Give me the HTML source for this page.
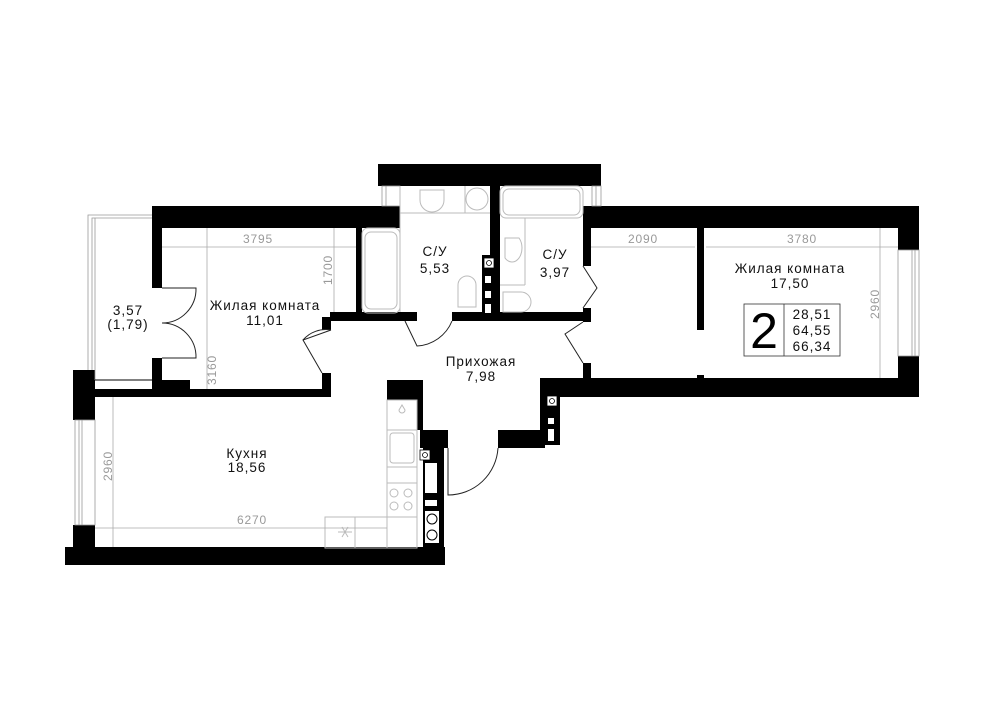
<!DOCTYPE html>
<html><head><meta charset="utf-8"><style>
html,body{margin:0;padding:0;background:#fff;width:1000px;height:707px;overflow:hidden}
svg{display:block}
.t{font-family:"Liberation Sans",sans-serif;font-size:13.5px;fill:#111;text-anchor:middle;letter-spacing:1px}
.d{font-family:"Liberation Sans",sans-serif;font-size:12px;fill:#999;text-anchor:middle;letter-spacing:0.8px}
.f{fill:none;stroke:#bbb;stroke-width:1}
.dl{stroke:#aaa;stroke-width:0.8;fill:none}
.dr{fill:none;stroke:#222;stroke-width:1}
</style></head><body>
<svg width="1000" height="707" viewBox="0 0 1000 707" xmlns="http://www.w3.org/2000/svg">
<g fill="#000">
<rect x="152" y="206" width="248" height="22"/>
<rect x="378" y="164" width="223" height="22"/>
<rect x="583" y="206" width="336" height="22"/>
<rect x="898" y="206" width="21" height="44"/>
<rect x="898" y="356" width="21" height="41"/>
<rect x="540" y="378" width="379" height="19"/>
<rect x="583" y="228" width="8" height="38"/>
<rect x="583" y="308" width="8" height="14"/>
<rect x="583" y="363" width="8" height="16"/>
<rect x="697" y="228" width="7" height="102"/>
<rect x="697" y="375" width="7" height="4"/>
<rect x="490" y="186" width="10" height="132"/>
<rect x="482" y="255" width="18" height="64"/>
<rect x="330" y="312" width="87" height="9"/>
<rect x="452" y="312" width="138" height="9"/>
<rect x="356" y="228" width="6" height="84"/>
<rect x="152" y="228" width="10" height="60"/>
<rect x="152" y="358" width="10" height="30"/>
<rect x="152" y="380" width="38" height="17"/>
<rect x="95" y="389" width="236" height="8"/>
<rect x="322" y="317" width="9" height="13"/>
<rect x="322" y="373" width="9" height="24"/>
<rect x="73" y="370" width="22" height="50"/>
<rect x="73" y="525" width="22" height="23"/>
<rect x="65" y="547" width="380" height="18"/>
<rect x="387" y="380" width="36" height="20"/>
<rect x="417" y="400" width="6" height="30"/>
<rect x="420" y="430" width="28" height="18"/>
<rect x="423" y="447" width="21" height="101"/>
<rect x="498" y="430" width="47" height="18"/>
<rect x="540" y="380" width="20" height="65"/>
</g>
<g fill="#fff" stroke="#000" stroke-width="0.8">
<rect x="484" y="258" width="10" height="10"/><circle cx="489" cy="263" r="2.5"/>
<rect x="547" y="396" width="10" height="10"/><circle cx="552" cy="401" r="2.5"/>
<rect x="420" y="450" width="10" height="10"/><circle cx="425" cy="455" r="2.5"/>
</g>
<g fill="#fff">
<rect x="485" y="276" width="6" height="7"/><rect x="485" y="291" width="6" height="7"/><rect x="485" y="304" width="6" height="9"/>
<rect x="548" y="418" width="6" height="6"/><rect x="548" y="429" width="6" height="12"/>
<rect x="425" y="463" width="12" height="30"/><rect x="425" y="500" width="12" height="6"/>
<rect x="425" y="511" width="14" height="32"/>
</g>
<g fill="none" stroke="#000" stroke-width="1"><circle cx="432" cy="519" r="5"/><circle cx="432" cy="535" r="5"/></g>
<g fill="none" stroke="#999" stroke-width="0.8">
<rect x="898" y="250" width="21" height="106"/><line x1="912" y1="250" x2="912" y2="356"/><line x1="915" y1="250" x2="915" y2="356"/>
<rect x="75" y="420" width="20" height="105"/><line x1="79" y1="420" x2="79" y2="525"/><line x1="82" y1="420" x2="82" y2="525"/>
<rect x="382" y="186" width="18" height="20"/><line x1="386" y1="186" x2="386" y2="206"/>
<rect x="592" y="186" width="9" height="20"/><line x1="596" y1="186" x2="596" y2="206"/>
<polyline points="152,215 88,215 88,370"/><polyline points="152,218 92,218 92,370"/>
<line x1="95" y1="218" x2="95" y2="380"/>
</g>
<line x1="95" y1="380" x2="152" y2="380" stroke="#000" stroke-width="1"/>
<g class="f">
<rect x="362" y="228" width="38" height="85" rx="6"/><rect x="365" y="232" width="32" height="77" rx="6"/>
<line x1="400" y1="186" x2="400" y2="312"/>
<line x1="400" y1="213" x2="490" y2="213"/>
<path d="M420 190 h24 v10 a12 12 0 0 1 -24 0 z"/>
<line x1="465" y1="186" x2="465" y2="213"/><circle cx="477" cy="199" r="11"/>
<path d="M458 285 a9 9 0 0 1 18 0 v22 h-18 z"/>
<rect x="500" y="186" width="83" height="32" rx="6"/><rect x="503" y="189" width="77" height="26" rx="6"/>
<line x1="525" y1="218" x2="525" y2="285"/><line x1="500" y1="285" x2="525" y2="285"/>
<path d="M505 238 h14 a10 14 0 0 1 -14 20 z"/>
<path d="M503 292 h18 a10 10 0 0 1 0 20 h-18 z"/>
<rect x="387" y="400" width="30" height="148"/>
<line x1="387" y1="430" x2="417" y2="430"/><line x1="387" y1="467" x2="417" y2="467"/><line x1="387" y1="483" x2="417" y2="483"/>
<rect x="390" y="433" width="24" height="30" rx="3"/>
<path d="M399 410 a3 3 0 1 0 6 0 l-3 -5 z"/>
<circle cx="394" cy="493" r="4"/><circle cx="408" cy="493" r="4"/><circle cx="394" cy="506" r="4"/><circle cx="408" cy="506" r="4"/>
<rect x="325" y="517" width="92" height="31"/><line x1="355" y1="517" x2="355" y2="548"/>
<path d="M342 527 l6 10 M348 527 l-6 10 M338 532 h14"/>
</g>
<g class="dr">
<path d="M162 288 L196 288 A34 34 0 0 1 162 323"/>
<path d="M162 358 L196 358 A34 34 0 0 0 162 323"/>
<path d="M331 330 L303 340 L322 373"/>
<path d="M331 330 A30 30 0 0 0 303 340"/>
<path d="M405 321 L417 346 A40 40 0 0 0 452 321"/>
<path d="M583 266 L597 288 L583 308"/>
<path d="M583 322 L565 334 L583 363"/>
<path d="M448 448 L448 495 A50 50 0 0 0 498 448"/>
</g>
<g class="dl">
<line x1="162" y1="247" x2="356" y2="247"/>
<line x1="207" y1="228" x2="207" y2="389"/>
<line x1="334" y1="228" x2="334" y2="312"/>
<line x1="113" y1="397" x2="113" y2="547"/>
<line x1="95" y1="528" x2="387" y2="528"/>
<line x1="591" y1="247" x2="695" y2="247"/>
<line x1="706" y1="247" x2="898" y2="247"/>
<line x1="880" y1="228" x2="880" y2="378"/>
</g>
<text class="d" x="258" y="243">3795</text>
<text class="d" x="332" y="270" transform="rotate(-90 332 270)">1700</text>
<text class="d" x="216" y="370" transform="rotate(-90 216 370)">3160</text>
<text class="d" x="112" y="466" transform="rotate(-90 112 466)">2960</text>
<text class="d" x="252" y="524">6270</text>
<text class="d" x="643" y="243">2090</text>
<text class="d" x="802" y="243">3780</text>
<text class="d" x="879" y="304" transform="rotate(-90 879 304)">2960</text>
<text class="t" x="265" y="310">Жилая комната</text><text class="t" x="265" y="325">11,01</text>
<text class="t" x="435" y="256">С/У</text><text class="t" x="435" y="273">5,53</text>
<text class="t" x="555" y="259">С/У</text><text class="t" x="555" y="277">3,97</text>
<text class="t" x="481" y="366">Прихожая</text><text class="t" x="481" y="381">7,98</text>
<text class="t" x="247" y="458">Кухня</text><text class="t" x="247" y="472">18,56</text>
<text class="t" x="790" y="273">Жилая комната</text><text class="t" x="790" y="288">17,50</text>
<text class="t" x="128" y="315">3,57</text><text class="t" x="128" y="329">(1,79)</text>
<rect x="744" y="304" width="96" height="52" fill="none" stroke="#333" stroke-width="0.8"/>
<line x1="784" y1="304" x2="784" y2="356" stroke="#333" stroke-width="0.8"/>
<text x="764" y="348" style="font-family:'Liberation Sans',sans-serif;font-size:50px;text-anchor:middle;fill:#000">2</text>
<text class="t" x="812" y="319">28,51</text><text class="t" x="812" y="335">64,55</text><text class="t" x="812" y="351">66,34</text>
</svg>
</body></html>
